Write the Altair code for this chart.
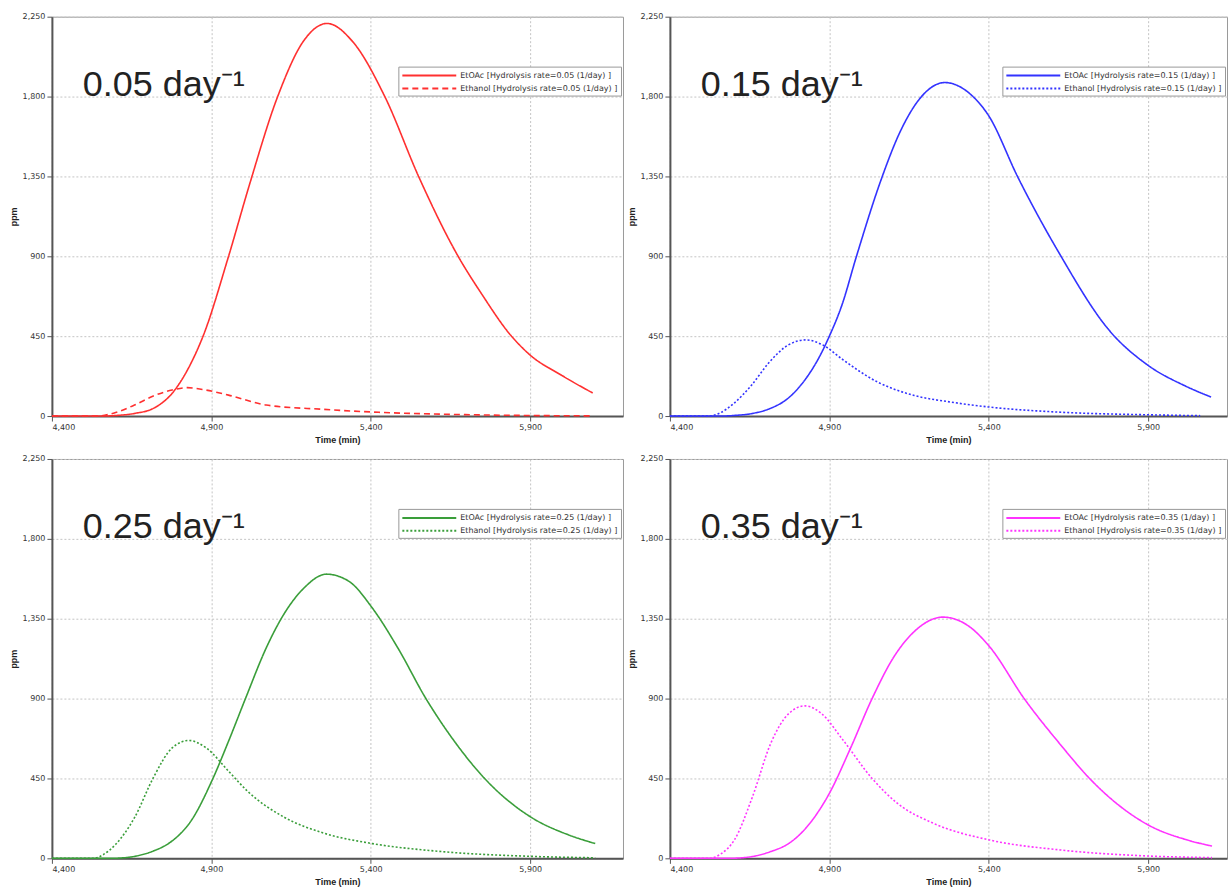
import altair as alt
import pandas as pd

# ---------------- data ----------------
rates = ["0.05", "0.15", "0.25", "0.35"]
colors = ["#FF3030", "#3333FF", "#3A9E3A", "#FF33FF"]
dashes = [[6, 4], [2, 2], [2, 2], [2, 2]]

etoac_t_005 = [4400, 4560, 4600, 4660, 4718, 4777, 4836, 4874, 4954, 5019, 5108, 5190, 5263, 5343, 5444, 5550, 5674, 5747, 5839, 5899, 6000, 6096]
etoac_v_005 = [0, 0, 3, 15, 43, 128, 297, 450, 900, 1300, 1800, 2115, 2212, 2110, 1800, 1350, 900, 690, 455, 345, 228, 130]
eth_t_005 = [4400, 4541, 4600, 4659, 4718, 4777, 4825, 4872, 4954, 5072, 5249, 5426, 5662, 5899, 6096]
eth_v_005 = [0, 0, 20, 62, 113, 147, 160, 150, 118, 62, 38, 21, 9, 3, 1]

etoac_t_015 = [4400, 4560, 4599, 4660, 4712, 4769, 4826, 4871, 4900, 4939, 4985, 5062, 5121, 5189, 5262, 5336, 5400, 5490, 5620, 5779, 5900, 6018, 6097]
etoac_v_015 = [0, 0, 3, 15, 41, 98, 210, 341, 450, 623, 900, 1330, 1598, 1800, 1879, 1823, 1691, 1350, 920, 480, 285, 168, 107]
eth_t_015 = [4400, 4519, 4560, 4599, 4655, 4712, 4769, 4826, 4882, 4939, 5052, 5166, 5280, 5400, 5620, 5900, 6063]
eth_v_015 = [0, 0, 20, 69, 172, 304, 398, 429, 398, 322, 191, 116, 79, 51, 22, 7, 2]

etoac_t_025 = [4400, 4580, 4624, 4670, 4718, 4777, 4836, 4905, 4954, 5007, 5072, 5119, 5190, 5261, 5332, 5405, 5485, 5573, 5662, 5757, 5905, 6016, 6104]
etoac_v_025 = [0, 0, 3, 15, 41, 98, 210, 450, 660, 900, 1185, 1350, 1522, 1601, 1560, 1410, 1185, 900, 660, 450, 229, 135, 83]
eth_t_025 = [4400, 4530, 4560, 4600, 4659, 4718, 4777, 4830, 4884, 4954, 5013, 5131, 5249, 5405, 5603, 5905, 6104]
eth_v_025 = [0, 0, 20, 79, 229, 454, 622, 664, 622, 491, 379, 229, 144, 83, 41, 11, 3]

etoac_t_035 = [4400, 4580, 4625, 4670, 4716, 4773, 4830, 4900, 4966, 5034, 5102, 5170, 5256, 5341, 5403, 5511, 5625, 5716, 5900, 6023, 6100]
etoac_v_035 = [0, 0, 3, 14, 38, 84, 178, 366, 619, 900, 1134, 1284, 1359, 1303, 1191, 900, 640, 450, 188, 103, 69]
eth_t_035 = [4400, 4523, 4560, 4602, 4659, 4716, 4773, 4824, 4875, 4943, 5034, 5114, 5227, 5403, 5625, 5900, 6100]
eth_v_035 = [0, 0, 25, 103, 347, 647, 816, 859, 816, 666, 450, 309, 197, 103, 47, 13, 4]

x_ticks = [4400, 4900, 5400, 5900]
y_ticks = [0, 450, 900, 1350, 1800, 2250]

series_data = [
    (etoac_t_005, etoac_v_005, eth_t_005, eth_v_005),
    (etoac_t_015, etoac_v_015, eth_t_015, eth_v_015),
    (etoac_t_025, etoac_v_025, eth_t_025, eth_v_025),
    (etoac_t_035, etoac_v_035, eth_t_035, eth_v_035),
]

FONT = "Liberation Sans"
SMALL = "DejaVu Sans"


def panel(i, width, xmax):
    rate = rates[i]
    et_t, et_v, eh_t, eh_v = series_data[i]
    lab_e = f"EtOAc [Hydrolysis rate={rate} (1/day) ]"
    lab_h = f"Ethanol [Hydrolysis rate={rate} (1/day) ]"
    df = pd.concat([
        pd.DataFrame({"t": et_t, "v": et_v, "series": lab_e}),
        pd.DataFrame({"t": eh_t, "v": eh_v, "series": lab_h}),
    ])
    leg = alt.Legend(
        title=None, orient="none", legendX=width - 225, legendY=50,
        labelFontSize=8, labelFont=SMALL, labelColor="#333",
        symbolType="M-5.4,0H5.4", symbolSize=100, symbolStrokeWidth=2,
        symbolOffset=22, labelOffset=25,
        strokeColor="#999", fillColor="white", padding=3, rowPadding=3,
    )
    xenc = alt.X("t:Q", scale=alt.Scale(domain=[4400, xmax], nice=False, zero=False),
                 axis=alt.Axis(values=x_ticks, format=",.0f", title="Time (min)"))
    yenc = alt.Y("v:Q", scale=alt.Scale(domain=[0, 2250], nice=False),
                 axis=alt.Axis(values=y_ticks, format=",.0f", title="ppm"))
    lines = alt.Chart(df).mark_line(strokeWidth=1.6, interpolate="monotone").encode(
        x=xenc, y=yenc,
        color=alt.Color("series:N", scale=alt.Scale(domain=[lab_e, lab_h], range=[colors[i], colors[i]]), legend=leg),
        strokeDash=alt.StrokeDash("series:N", scale=alt.Scale(domain=[lab_e, lab_h], range=[[1, 0], dashes[i]]), legend=leg),
    )
    label = alt.Chart(pd.DataFrame({"label": [f"{rate} day⁻¹"]})).mark_text(
        align="left", baseline="alphabetic", fontSize=36, font=FONT, color="#222"
    ).encode(x=alt.datum(4497), y=alt.datum(1805), text="label:N")
    return alt.layer(lines, label).properties(width=width, height=400).resolve_scale(
        color="independent", strokeDash="independent")


W_LEFT, XMAX_LEFT = 572, 6191
W_RIGHT, XMAX_RIGHT = 558, 6147

top = alt.hconcat(panel(0, W_LEFT, XMAX_LEFT), panel(1, W_RIGHT, XMAX_RIGHT), spacing=2)
bottom = alt.hconcat(panel(2, W_LEFT, XMAX_LEFT), panel(3, W_RIGHT, XMAX_RIGHT), spacing=2)

chart = alt.vconcat(top, bottom, spacing=9).resolve_scale(
    color="independent", strokeDash="independent"
).resolve_legend(color="independent", strokeDash="independent").properties(
    padding={"left": 8, "top": 11, "right": 0, "bottom": 0}, background="white"
).configure_view(
    stroke="#9a9a9a", strokeWidth=1
).configure_axis(
    labelFont=SMALL, labelFontSize=8, labelColor="#333",
    titleFont=FONT, titleFontSize=9, titleFontWeight="bold", titleColor="#222",
    domainColor="#555", domainWidth=2, tickColor="#555", tickSize=5, labelPadding=2,
    gridColor="#c4c4c4", gridDash=[2, 2], gridWidth=1, titlePadding=4,
)

chart.save("out.html", embed_options={"renderer": "svg", "actions": False})
